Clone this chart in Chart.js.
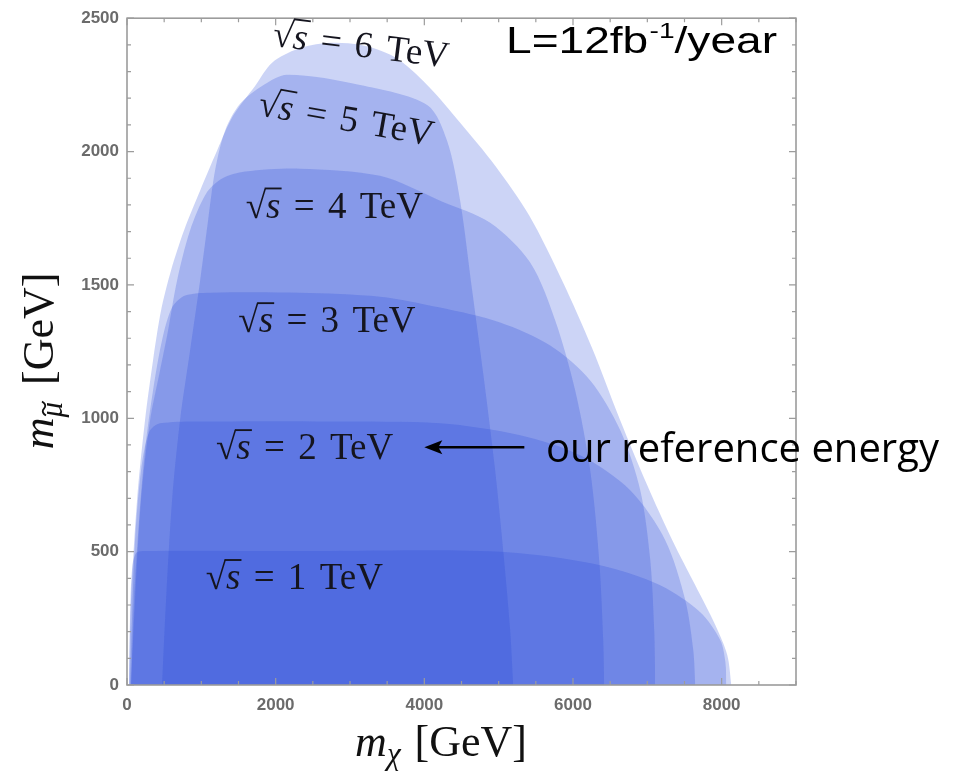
<!DOCTYPE html>
<html>
<head>
<meta charset="utf-8">
<script src="https://cdn.jsdelivr.net/npm/chart.js@4.4.1/dist/chart.umd.min.js"></script>
<style>
  html, body { margin: 0; padding: 0; background: #fff; }
</style>
</head>
<body>
<canvas id="g_reach" width="957" height="775"></canvas>
<script>
// reach regions: m_chi (GeV) against m_smuon (GeV)
const energies = [1, 2, 3, 4, 5, 6];

const mChi1 = [27, 40, 67, 121, 242, 2329, 4213, 5290, 6367, 7174, 7712, 7982, 8050, 8063];
const mSmu1 = [0, 243, 431, 494, 502, 502, 505, 494, 449, 374, 273, 168, 86, 0];

const mChi2 = [40, 67, 108, 189, 296, 444, 1252, 2732, 4213, 5290, 6097, 6770, 7241, 7511, 7618, 7645];
const mSmu2 = [0, 243, 543, 805, 947, 981, 988, 988, 981, 936, 861, 730, 543, 318, 131, 0];

const mChi3 = [54, 94, 162, 242, 350, 471, 606, 781, 1117, 2329, 3405, 4213, 5020, 5694, 6232, 6636, 6905, 7040, 7093, 7107];
const mSmu3 = [0, 318, 618, 880, 1104, 1292, 1415, 1460, 1471, 1471, 1456, 1415, 1359, 1273, 1142, 955, 730, 468, 206, 0];

const mChi4 = [54, 108, 188, 310, 444, 552, 673, 848, 1063, 1279, 1588, 2329, 3405, 4213, 4886, 5424, 5761, 6030, 6232, 6353, 6407, 6420];
const mSmu4 = [0, 318, 693, 992, 1179, 1329, 1516, 1704, 1842, 1899, 1925, 1936, 1909, 1816, 1733, 1584, 1367, 1104, 805, 468, 168, 0];

const mChi5 = [471, 525, 606, 713, 848, 983, 1090, 1184, 1319, 1521, 1817, 2154, 3136, 4038, 4307, 4482, 4644, 4805, 4953, 5074, 5155, 5196];
const mSmu5 = [0, 318, 693, 992, 1254, 1516, 1741, 1928, 2078, 2179, 2246, 2288, 2250, 2175, 2040, 1816, 1479, 1142, 805, 468, 206, 0];

const mChi6 = [27, 54, 135, 242, 350, 458, 592, 767, 983, 1211, 1427, 1723, 1952, 2302, 2692, 3136, 3594, 4038, 4482, 4953, 5411, 5855, 6259, 6636, 6999, 7336, 7645, 7914, 8076, 8130];
const mSmu6 = [0, 318, 693, 992, 1217, 1404, 1554, 1704, 1853, 2003, 2134, 2246, 2333, 2385, 2407, 2400, 2355, 2250, 2108, 1947, 1760, 1516, 1262, 992, 749, 543, 374, 225, 112, 0];

const xTicks = [0, 2000, 4000, 6000, 8000];
const yTicks = [0, 500, 1000, 1500, 2000, 2500];

// where the sqrt(s) labels sit (data units) and their tilt in degrees
const labelX = [2250, 2390, 2690, 2790, 2950, 3150];
const labelY = [404, 891, 1367, 1797, 2123, 2400];
const labelTilt = [0, 0, 0, 0, 10, 7];

const mChiAll = [mChi1, mChi2, mChi3, mChi4, mChi5, mChi6];
const mSmuAll = [mSmu1, mSmu2, mSmu3, mSmu4, mSmu5, mSmu6];

const layer = 'rgba(36,71,218,0.23)';

function toPoints(xs, ys) {
    return xs.map(function(v, i) { return {x: v, y: ys[i]}; });
}

function drawRootS(ctx, cx, cy, n, size, tilt) {
    ctx.save();
    ctx.translate(cx, cy);
    ctx.rotate(tilt * Math.PI / 180);
    const up = size + 'px "Liberation Serif"';
    const it = 'italic ' + up;
    const gap = size * 0.36;
    ctx.font = up;
    const mRad = ctx.measureText('\u221A');
    const wRad = mRad.width;
    const wEq = ctx.measureText('=').width;
    const wN = ctx.measureText(String(n)).width;
    const wT = ctx.measureText('TeV').width;
    ctx.font = it;
    const wS = ctx.measureText('s').width;
    const total = wRad + wS + gap + wEq + gap + wN + gap + wT;
    let x0 = -total / 2;
    const base = size * 0.32;
    ctx.fillStyle = '#15151f';
    ctx.strokeStyle = '#15151f';
    ctx.textBaseline = 'alphabetic';
    ctx.font = up;
    ctx.fillText('\u221A', x0, base);
    const barL = x0 + wRad - size * 0.04;
    x0 += wRad;
    ctx.font = it;
    ctx.fillText('s', x0, base);
    x0 += wS;
    const barR = x0 + size * 0.03;
    x0 += gap;
    ctx.font = up;
    ctx.fillText('=', x0, base); x0 += wEq + gap;
    ctx.fillText(String(n), x0, base); x0 += wN + gap;
    ctx.fillText('TeV', x0, base);
    // bar of the radical
    const topY = base - mRad.actualBoundingBoxAscent + size * 0.025;
    ctx.lineWidth = size * 0.05;
    ctx.beginPath();
    ctx.moveTo(barL, topY);
    ctx.lineTo(barR, topY);
    ctx.stroke();
    ctx.restore();
}

const frame = {
    id: 'frame',
    afterDatasetsDraw(chart) {
        const ctx = chart.ctx;
        const a = chart.chartArea;
        const x = chart.scales.x;
        const y = chart.scales.y;
        ctx.save();
        ctx.strokeStyle = '#9c9c9c';
        ctx.lineWidth = 1.6;
        ctx.strokeRect(a.left, a.top, a.right - a.left, a.bottom - a.top);
        ctx.lineWidth = 1.2;
        ctx.beginPath();
        for (let v = 0; v <= 9000; v += 500) {
            const px = x.getPixelForValue(v);
            const len = v % 2000 === 0 ? 7 : 4;
            ctx.moveTo(px, a.bottom); ctx.lineTo(px, a.bottom - len);
            ctx.moveTo(px, a.top); ctx.lineTo(px, a.top + len);
        }
        for (let v = 0; v <= 2500; v += 100) {
            const py = y.getPixelForValue(v);
            const len = v % 500 === 0 ? 7 : 4;
            ctx.moveTo(a.left, py); ctx.lineTo(a.left + len, py);
            ctx.moveTo(a.right, py); ctx.lineTo(a.right - len, py);
        }
        ctx.stroke();
        ctx.restore();
    },
    afterDraw(chart) {
        const ctx = chart.ctx;
        const x = chart.scales.x;
        const y = chart.scales.y;
        ctx.save();
        // sqrt(s) labels
        energies.forEach(function(e, i) {
            drawRootS(ctx, x.getPixelForValue(labelX[i]), y.getPixelForValue(labelY[i]), e, 37, labelTilt[i]);
        });

        // luminosity, a little wide as in the original
        ctx.fillStyle = '#000';
        ctx.textBaseline = 'alphabetic';
        ctx.save();
        ctx.translate(506, 53);
        ctx.scale(1.28, 1);
        ctx.font = '36px "Liberation Sans"';
        let lx = 0;
        ctx.fillText('L=12fb', lx, 0);
        lx += ctx.measureText('L=12fb').width;
        ctx.font = '22px "Liberation Sans"';
        ctx.fillText('-1', lx + 1, -15);
        lx += ctx.measureText('-1').width + 1;
        ctx.font = '36px "Liberation Sans"';
        ctx.fillText('/year', lx, 0);
        ctx.restore();

        // arrow + note
        const ay = y.getPixelForValue(891);
        const ax = x.getPixelForValue(4000);
        ctx.strokeStyle = '#000';
        ctx.lineWidth = 2.5;
        ctx.beginPath();
        ctx.moveTo(ax + 10, ay);
        ctx.lineTo(ax + 100, ay);
        ctx.stroke();
        ctx.beginPath();
        ctx.moveTo(ax, ay);
        ctx.lineTo(ax + 18, ay - 7);
        ctx.lineTo(ax + 14, ay);
        ctx.lineTo(ax + 18, ay + 7);
        ctx.closePath();
        ctx.fillStyle = '#000';
        ctx.fill();
        ctx.font = '40px "Open Sans"';
        ctx.fillText('our reference energy', 546, 462);

        // axis titles
        ctx.fillStyle = '#111';
        ctx.strokeStyle = '#111';
        const big = '44px "Liberation Serif"';
        const bigIt = 'italic ' + big;
        const sub = 'italic 31px "Liberation Serif"';
        // x title
        ctx.font = bigIt; const wm = ctx.measureText('m').width;
        ctx.font = sub; const wc = ctx.measureText('\u03C7').width;
        ctx.font = big; const wg = ctx.measureText(' [GeV]').width;
        let tx = 441 - (wm + wc + 3 + wg) / 2;
        ctx.font = bigIt; ctx.fillText('m', tx, 756); tx += wm;
        ctx.font = sub; ctx.fillText('\u03C7', tx, 764); tx += wc + 3;
        ctx.font = big; ctx.fillText(' [GeV]', tx, 756);
        // y title
        ctx.save();
        ctx.translate(53, 361);
        ctx.rotate(-Math.PI / 2);
        ctx.font = sub; const wmu = ctx.measureText('\u03BC').width;
        let ty = -(wm + wmu + 6 + wg) / 2;
        ctx.font = bigIt; ctx.fillText('m', ty, 0); ty += wm;
        ctx.font = sub; ctx.fillText('\u03BC', ty, 9);
        // tilde over the mu
        const tc = ty + wmu * 0.58;
        ctx.lineWidth = 1.8;
        ctx.beginPath();
        ctx.moveTo(tc - 7, -7);
        ctx.bezierCurveTo(tc - 4, -12, tc - 1, -10, tc, -9);
        ctx.bezierCurveTo(tc + 1, -8, tc + 4, -6, tc + 7, -11);
        ctx.stroke();
        ty += wmu + 6;
        ctx.font = big; ctx.fillText(' [GeV]', ty, 0);
        ctx.restore();
        ctx.restore();
    }
};

function drawReach() {
    const ctx = document.getElementById('g_reach').getContext('2d');
    const datasets = energies.map(function(e, i) {
        return {
            label: e + ' TeV',
            data: toPoints(mChiAll[i], mSmuAll[i]),
            fill: 'origin',
            backgroundColor: layer,
            borderColor: 'transparent',
            borderWidth: 0,
            pointRadius: 0,
            tension: 0.3
        };
    });
    const tickFont = {family: 'Liberation Sans', size: 17, weight: 'bold'};
    const plain = function(v) { return String(v); };
    const config = {
        type: 'line',
        data: {datasets: datasets},
        options: {
            responsive: false,
            animation: false,
            devicePixelRatio: 1,
            layout: {padding: {top: 17, right: 161, left: 0, bottom: 0}},
            plugins: {legend: {display: false}, tooltip: {enabled: false}},
            scales: {
                x: {
                    type: 'linear', min: 0, max: 9000,
                    grid: {display: false, drawTicks: false},
                    border: {display: false},
                    ticks: {font: tickFont, color: '#6b6b6b', padding: 10, callback: plain},
                    afterBuildTicks: function(s) { s.ticks = xTicks.map(function(v) { return {value: v}; }); },
                    afterFit: function(s) { s.height = 90; }
                },
                y: {
                    type: 'linear', min: 0, max: 2500,
                    grid: {display: false, drawTicks: false},
                    border: {display: false},
                    ticks: {font: tickFont, color: '#6b6b6b', padding: 8, callback: plain},
                    afterBuildTicks: function(s) { s.ticks = yTicks.map(function(v) { return {value: v}; }); },
                    afterFit: function(s) { s.width = 127; }
                }
            }
        },
        plugins: [frame]
    };
    new Chart(ctx, config);
}

window.addEventListener('load', () => {
    drawReach();
});
</script>
</body>
</html>
